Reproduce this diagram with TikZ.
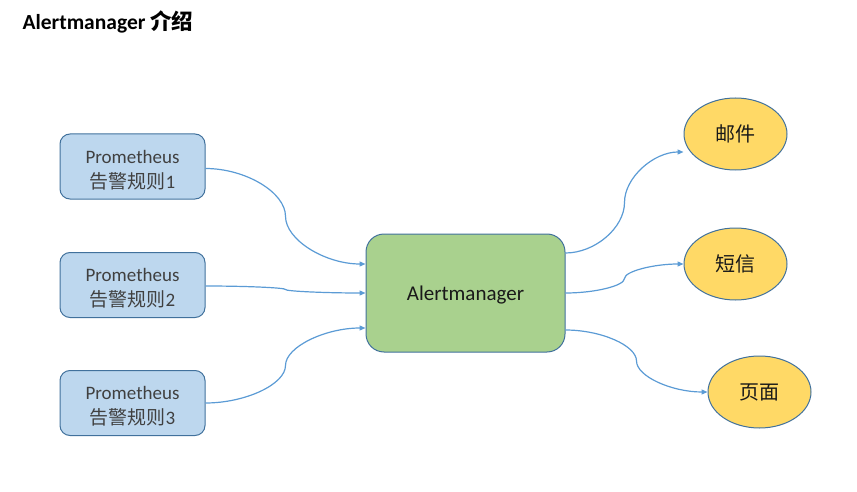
\documentclass[tikz,border=0pt]{standalone}
\usepackage{fontspec}
\setmainfont{Carlito}
\newfontfamily\cjk{Noto Sans CJK SC}
\usetikzlibrary{shapes.geometric,arrows.meta,calc}
\definecolor{boxblue}{HTML}{BDD7EE}
\definecolor{edgeblue}{HTML}{41719C}
\definecolor{amgreen}{HTML}{A9D18E}
\definecolor{chgold}{HTML}{FFD966}
\definecolor{linkblue}{HTML}{5B9BD5}
\definecolor{txtgrey}{HTML}{404040}
\newcommand\cconn[2]{%
  \draw[link] let \p1=(#1), \p2=(#2) in (\p1)
    .. controls ({\x1+(\x2-\x1)/4},\y1) and ({(\x1+\x2)/2},{\y1+(\y2-\y1)/4}) ..
    ({(\x1+\x2)/2},{(\y1+\y2)/2})
    .. controls ({(\x1+\x2)/2},{\y1+3*(\y2-\y1)/4}) and ({\x1+3*(\x2-\x1)/4},\y2) ..
    (\p2);}
\begin{document}
\begin{tikzpicture}[x=1pt,y=1pt,
  src/.style={draw=edgeblue, line width=1pt, fill=boxblue, rounded corners=10pt,
    minimum width=145pt, minimum height=65pt, align=center, text=txtgrey,
    font=\fontsize{19}{25}\selectfont, inner sep=0pt},
  hub/.style={draw=edgeblue, line width=1pt, fill=amgreen, rounded corners=18pt,
    minimum width=199pt, minimum height=118pt, inner sep=0pt,
    font=\fontsize{21}{25}\selectfont, text=black!90},
  chan/.style={ellipse, draw=edgeblue, line width=1pt, fill=chgold,
    minimum width=103pt, minimum height=72pt, inner sep=0pt,
    font=\cjk\fontsize{20}{24}\selectfont, text=black!90},
  link/.style={draw=linkblue, line width=1.2pt, -{Triangle[length=6pt,width=5pt]}}]
\useasboundingbox (0,0) rectangle (857,-492);
\node[anchor=west, font=\bfseries\fontsize{21.5}{26}\selectfont] (title) at (19,-22)
  {Alertmanager {\cjk 介绍}};
\node[src] (p1) at (132.5,-166.5) {\rule{0pt}{20pt}Prometheus\\{\cjk 告警规则}1};
\node[src] (p2) at (132.5,-285) {\rule{0pt}{20pt}Prometheus\\{\cjk 告警规则}2};
\node[src] (p3) at (132.5,-403) {\rule{0pt}{20pt}Prometheus\\{\cjk 告警规则}3};
\node[hub] (am) at (465.5,-293) {\rule{0pt}{19.5pt}Alertmanager};
\node[chan] (mail) at (735.5,-134) {邮件};
\node[chan] (sms) at (735.5,-264) {短信};
\node[chan] (page) at (759.5,-392) {页面};
\coordinate (p1o) at ([yshift=-2pt]p1.east);
\coordinate (p2o) at ([yshift=-1pt]p2.east);
\coordinate (p3o) at (p3.east);
\coordinate (ami1) at ([yshift=29pt]am.west);
\coordinate (ami2) at (am.west);
\coordinate (ami3) at ([yshift=-35pt]am.west);
\coordinate (amo1) at ([yshift=40pt]am.east);
\coordinate (amo2) at (am.east);
\coordinate (amo3) at ([yshift=-37pt]am.east);
\coordinate (maili) at ([yshift=-18pt]mail.west);
\cconn{p1o}{ami1}
\cconn{p2o}{ami2}
\cconn{p3o}{ami3}
\cconn{amo1}{maili}
\cconn{amo2}{sms.west}
\cconn{amo3}{page.west}
\end{tikzpicture}
\end{document}
